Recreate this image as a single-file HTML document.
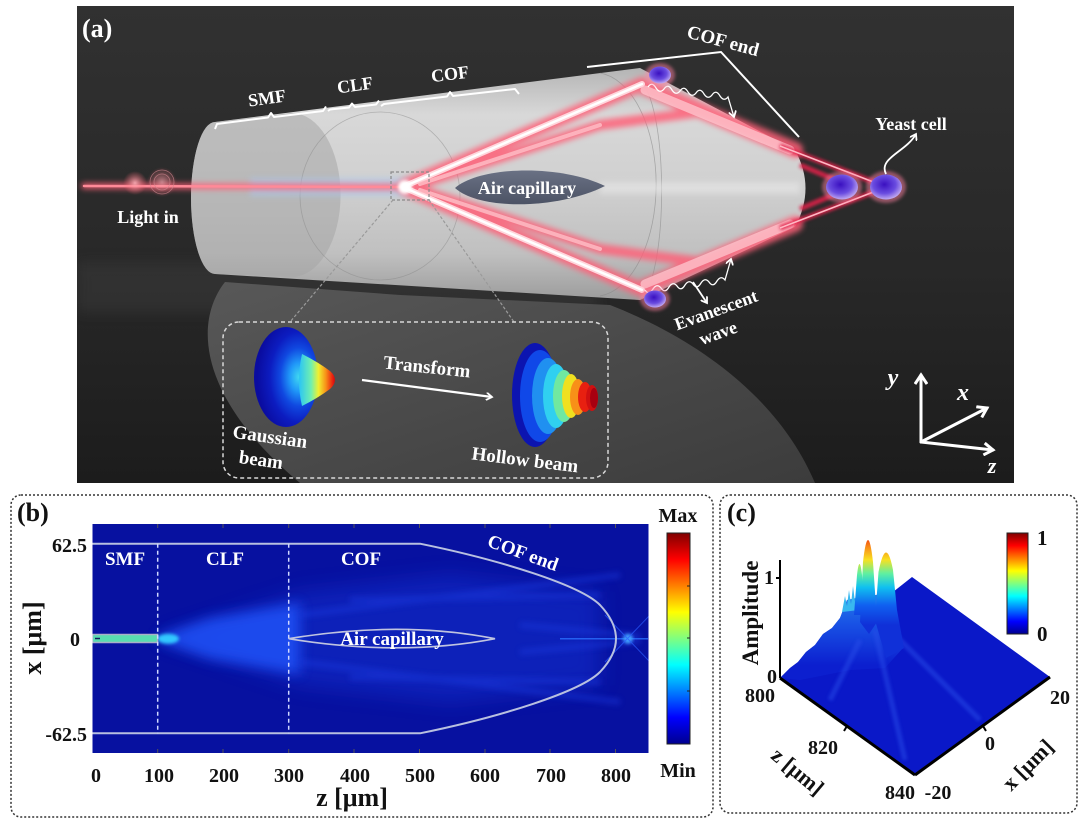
<!DOCTYPE html>
<html><head><meta charset="utf-8">
<style>
html,body{margin:0;padding:0;background:#fff;}
svg{display:block;}
text{font-family:"Liberation Serif",serif;font-weight:bold;}
</style></head>
<body>
<svg width="1080" height="825" viewBox="0 0 1080 825" xmlns="http://www.w3.org/2000/svg">
<defs>
  <linearGradient id="bgA" x1="0" y1="0" x2="0" y2="1">
    <stop offset="0" stop-color="#313131"/>
    <stop offset="0.55" stop-color="#282828"/>
    <stop offset="1" stop-color="#1c1c1c"/>
  </linearGradient>
  <linearGradient id="cyl" x1="0" y1="0" x2="0" y2="1">
    <stop offset="0" stop-color="#b4b4b4"/>
    <stop offset="0.2" stop-color="#d8d8d8"/>
    <stop offset="0.5" stop-color="#d0d0d0"/>
    <stop offset="0.8" stop-color="#c0c0c0"/>
    <stop offset="1" stop-color="#9c9c9c"/>
  </linearGradient>
  <linearGradient id="refl" x1="0" y1="0" x2="1" y2="1">
    <stop offset="0" stop-color="#585858"/>
    <stop offset="0.6" stop-color="#474747"/>
    <stop offset="1" stop-color="#3c3c3c"/>
  </linearGradient>
  <linearGradient id="lens" x1="0" y1="0" x2="0" y2="1">
    <stop offset="0" stop-color="#6a7184"/>
    <stop offset="1" stop-color="#4c5365"/>
  </linearGradient>
  <radialGradient id="cell" cx="0.45" cy="0.4" r="0.6">
    <stop offset="0" stop-color="#3a10c0"/>
    <stop offset="0.6" stop-color="#6a4ce0"/>
    <stop offset="1" stop-color="#c0a8f0"/>
  </radialGradient>
  <radialGradient id="pinkglow" cx="0.5" cy="0.5" r="0.5">
    <stop offset="0" stop-color="#ffb0b8" stop-opacity="0.9"/>
    <stop offset="1" stop-color="#ff6070" stop-opacity="0"/>
  </radialGradient>
  <linearGradient id="gcone" x1="300" y1="0" x2="337" y2="0" gradientUnits="userSpaceOnUse">
    <stop offset="0" stop-color="#30c8f0"/>
    <stop offset="0.3" stop-color="#70f0b0"/>
    <stop offset="0.5" stop-color="#f0f030"/>
    <stop offset="0.7" stop-color="#f89018"/>
    <stop offset="0.88" stop-color="#e82010"/>
    <stop offset="1" stop-color="#b00010"/>
  </linearGradient>
  <radialGradient id="gdisk" cx="0.7" cy="0.5" r="0.65">
    <stop offset="0" stop-color="#40d8f0"/>
    <stop offset="0.22" stop-color="#2098f8"/>
    <stop offset="0.45" stop-color="#1048e0"/>
    <stop offset="0.7" stop-color="#0c1cc0"/>
    <stop offset="1" stop-color="#0a0ca0"/>
  </radialGradient>
  <linearGradient id="jet" x1="0" y1="1" x2="0" y2="0">
    <stop offset="0" stop-color="#00008f"/>
    <stop offset="0.125" stop-color="#0000ff"/>
    <stop offset="0.375" stop-color="#00ffff"/>
    <stop offset="0.625" stop-color="#ffff00"/>
    <stop offset="0.875" stop-color="#ff0000"/>
    <stop offset="1" stop-color="#800000"/>
  </linearGradient>
  <linearGradient id="peak" x1="0" y1="526" x2="0" y2="625" gradientUnits="userSpaceOnUse">
    <stop offset="0" stop-color="#b00010"/>
    <stop offset="0.1" stop-color="#f03010"/>
    <stop offset="0.22" stop-color="#f89018"/>
    <stop offset="0.34" stop-color="#f8e020"/>
    <stop offset="0.48" stop-color="#60f0a0"/>
    <stop offset="0.62" stop-color="#10c0f0"/>
    <stop offset="0.8" stop-color="#1060f0"/>
    <stop offset="1" stop-color="#1030d8"/>
  </linearGradient>
  <linearGradient id="mound" x1="0" y1="590" x2="0" y2="665" gradientUnits="userSpaceOnUse">
    <stop offset="0" stop-color="#2a90f0"/>
    <stop offset="0.45" stop-color="#1a58e8"/>
    <stop offset="1" stop-color="#0c20d0"/>
  </linearGradient>
  <filter id="blur3" x="-20%" y="-50%" width="140%" height="200%"><feGaussianBlur stdDeviation="3"/></filter>
  <filter id="blur2" x="-20%" y="-50%" width="140%" height="200%"><feGaussianBlur stdDeviation="1.5"/></filter>
  <filter id="blur6" x="-30%" y="-50%" width="160%" height="200%"><feGaussianBlur stdDeviation="6"/></filter>
  <filter id="blur10" x="-30%" y="-60%" width="160%" height="220%"><feGaussianBlur stdDeviation="10"/></filter>
  <clipPath id="clipA"><rect x="77" y="6" width="937" height="477"/></clipPath>
  <clipPath id="clipHM"><rect x="92.5" y="524" width="556" height="229"/></clipPath>
  <marker id="ah" markerWidth="8" markerHeight="8" refX="6" refY="4" orient="auto" markerUnits="userSpaceOnUse">
    <path d="M0,0 L6,4 L0,8" fill="none" stroke="#fff" stroke-width="1.8"/>
  </marker>
  <marker id="ah2" markerWidth="14" markerHeight="14" refX="10" refY="7" orient="auto" markerUnits="userSpaceOnUse">
    <path d="M1,1 L10,7 L1,13" fill="none" stroke="#fff" stroke-width="3"/>
  </marker>
</defs>

<!-- ================= PANEL (a) ================= -->
<rect x="77" y="6" width="937" height="477" fill="url(#bgA)"/>
<g clip-path="url(#clipA)">
  <rect x="77" y="262" width="520" height="50" fill="#3a3a3a" opacity="0.5" filter="url(#blur6)"/>
  <path d="M225 282 C195 320,195 395,300 483 L815 483 C780 400,700 340,610 305 L400 295 Z" fill="url(#refl)"/>
  <path d="M215 122 L640 68 L795 150 Q816 188 795 227 L640 300 L215 274 A24 76 0 0 1 215 122 Z" fill="url(#cyl)"/>
  <path d="M215 122 L292 113 A48 81 0 0 1 292 277 L215 274 A24 76 0 0 1 215 122 Z" fill="#a6a6a6" opacity="0.55"/>
  <ellipse cx="380" cy="196" rx="80" ry="84" fill="none" stroke="#8a8a8a" stroke-width="0.8" opacity="0.5"/>
  <path d="M600 73 A62 112 0 0 1 600 296" fill="none" stroke="#888" stroke-width="0.8" opacity="0.6"/>
  <path d="M640 82 A25 110 0 0 1 640 300" fill="none" stroke="#8a8a8a" stroke-width="0.8" opacity="0.6"/>
  <rect x="600" y="182" width="200" height="12" fill="#ececec" opacity="0.5" filter="url(#blur3)"/>
  <rect x="250" y="178" width="160" height="18" fill="#a8c8f0" opacity="0.55" filter="url(#blur3)"/>
  <path d="M455 188 C480 166,560 164,605 186 C560 209,480 211,455 188 Z" fill="url(#lens)"/>
  <g filter="url(#blur3)" stroke="#ff6078" stroke-linecap="round" opacity="0.85">
    <line x1="84" y1="186" x2="410" y2="187" stroke-width="6"/>
    <line x1="405" y1="186" x2="642" y2="84" stroke-width="14"/>
    <line x1="405" y1="188" x2="642" y2="290" stroke-width="14"/>
    <line x1="420" y1="184" x2="600" y2="125" stroke-width="10"/>
    <line x1="420" y1="190" x2="600" y2="249" stroke-width="10"/>
    <line x1="642" y1="86" x2="795" y2="150" stroke-width="16"/>
    <line x1="642" y1="288" x2="795" y2="224" stroke-width="16"/>
    <line x1="600" y1="125" x2="700" y2="112" stroke-width="10"/>
    <line x1="600" y1="249" x2="700" y2="262" stroke-width="10"/>
  </g>
  <g stroke-linecap="round">
    <line x1="84" y1="186" x2="410" y2="187" stroke="#ff8a98" stroke-width="2.5"/>
    <line x1="405" y1="186" x2="642" y2="84" stroke="#ffd6dc" stroke-width="6"/>
    <line x1="405" y1="186" x2="642" y2="84" stroke="#fff" stroke-width="2.5"/>
    <line x1="405" y1="188" x2="642" y2="290" stroke="#ffd6dc" stroke-width="6"/>
    <line x1="405" y1="188" x2="642" y2="290" stroke="#fff" stroke-width="2.5"/>
    <line x1="420" y1="184" x2="600" y2="125" stroke="#ffc0c8" stroke-width="4" opacity="0.8"/>
    <line x1="420" y1="190" x2="600" y2="249" stroke="#ffc0c8" stroke-width="4" opacity="0.8"/>
    <line x1="645" y1="90" x2="790" y2="150" stroke="#ffc8d0" stroke-width="9" opacity="0.75"/>
    <line x1="645" y1="284" x2="790" y2="224" stroke="#ffc8d0" stroke-width="9" opacity="0.75"/>
  </g>
  <g filter="url(#blur2)" stroke="#e0204a" stroke-width="5" opacity="0.9">
    <line x1="780" y1="146" x2="876" y2="183"/>
    <line x1="780" y1="228" x2="876" y2="191"/>
    <line x1="800" y1="165" x2="838" y2="181"/>
    <line x1="800" y1="209" x2="838" y2="193"/>
  </g>
  <g stroke="#ffb8c4" stroke-width="1.5">
    <line x1="780" y1="146" x2="876" y2="183"/>
    <line x1="780" y1="228" x2="876" y2="191"/>
  </g>
  <circle cx="135" cy="183" r="12" fill="url(#pinkglow)"/>
  <circle cx="162" cy="182" r="15" fill="url(#pinkglow)" opacity="0.7"/>
  <circle cx="162" cy="182" r="12" fill="none" stroke="#d08890" stroke-width="0.8" opacity="0.7"/>
  <circle cx="162" cy="182" r="8" fill="none" stroke="#d08890" stroke-width="0.8" opacity="0.7"/>
  <circle cx="405" cy="187" r="7" fill="#fff" filter="url(#blur2)"/>
  <rect x="391" y="172" width="38" height="28" fill="none" stroke="#8a8a8a" stroke-width="1.2" stroke-dasharray="3 2"/>
  <line x1="393" y1="200" x2="290" y2="322" stroke="#9a9a9a" stroke-width="1.2" stroke-dasharray="3 2"/>
  <line x1="429" y1="200" x2="514" y2="322" stroke="#9a9a9a" stroke-width="1.2" stroke-dasharray="3 2"/>
  <path d="M648 87 q4 -6 8 1 q4 6 8 1 q4 -6 8 1 q4 6 8 1 q4 -6 8 1 q4 6 8 1 q4 -6 8 1 q4 6 8 1 q4 -6 8 1 q4 6 8 1 L734 117" fill="none" stroke="#fff" stroke-width="1.3" marker-end="url(#ah)"/>
  <path d="M645 290 q4 6 8 -1 q4 -6 8 -1 q4 6 8 -1 q4 -6 8 -1 q4 6 8 -1 q4 -6 8 -1 q4 6 8 -1 q4 -6 8 -1 q4 6 8 -1 q4 -6 8 -1 L731 259" fill="none" stroke="#fff" stroke-width="1.3" marker-end="url(#ah)"/>
  <g>
    <ellipse cx="660" cy="75" rx="15" ry="12" fill="#ff80a0" opacity="0.5" filter="url(#blur2)"/>
    <ellipse cx="660" cy="75" rx="11" ry="8.5" fill="url(#cell)"/>
    <ellipse cx="655" cy="299" rx="15" ry="12" fill="#ff80a0" opacity="0.5" filter="url(#blur2)"/>
    <ellipse cx="655" cy="299" rx="11" ry="8.5" fill="url(#cell)"/>
    <ellipse cx="842" cy="187" rx="20" ry="16" fill="#ff80a0" opacity="0.5" filter="url(#blur2)"/>
    <ellipse cx="842" cy="187" rx="16" ry="12.5" fill="url(#cell)"/>
    <ellipse cx="886" cy="187" rx="20" ry="16" fill="#ff80a0" opacity="0.5" filter="url(#blur2)"/>
    <ellipse cx="886" cy="187" rx="16" ry="12.5" fill="url(#cell)"/>
  </g>
  <polyline points="587,67 721,52 799,137" fill="none" stroke="#fff" stroke-width="2"/>
  <g fill="none" stroke="#fff" stroke-width="2" stroke-linejoin="round">
    <path d="M215 129 L217 124 L268 117.5 L271 113 L274 117 L323 111 L326 106.5"/>
    <path d="M328 111 L330 109.5 L349 107.5 L352 103.5 L355 107 L376 104.5 L379 100.5"/>
    <path d="M381 106 L384 104 L447 96.5 L450 92 L453 96 L515 89 L519 94"/>
  </g>
  <rect x="223" y="322" width="385" height="156" rx="16" fill="none" stroke="#d8d8d8" stroke-width="1.5" stroke-dasharray="4 3"/>
  <ellipse cx="286" cy="377" rx="32" ry="50" fill="url(#gdisk)"/>
  <path d="M302 354 Q318 362 330 371 Q340 380 330 389 Q318 398 302 406 Q296 380 302 354 Z" fill="url(#gcone)"/>
  <ellipse cx="535" cy="395" rx="23" ry="52" fill="#0c14b0"/>
  <ellipse cx="540" cy="396" rx="20" ry="46" fill="#1048e8"/>
  <ellipse cx="548" cy="396" rx="16" ry="38" fill="#2090f0"/>
  <ellipse cx="556" cy="396" rx="13" ry="32" fill="#30d0f0"/>
  <ellipse cx="564" cy="396" rx="11" ry="26" fill="#70e8a0"/>
  <ellipse cx="571" cy="396" rx="9" ry="22" fill="#f0e020"/>
  <ellipse cx="578" cy="397" rx="8" ry="18" fill="#f89018"/>
  <ellipse cx="585" cy="397" rx="7" ry="15" fill="#e82010"/>
  <ellipse cx="592" cy="398" rx="6" ry="13" fill="#d01010"/>
  <ellipse cx="594" cy="398" rx="4" ry="10" fill="#a80010"/>
  <line x1="362" y1="380" x2="492" y2="397" stroke="#fff" stroke-width="2.2" marker-end="url(#ah)"/>
  <g stroke="#fff" stroke-width="3" fill="none" stroke-linecap="round">
    <line x1="921" y1="442" x2="921" y2="375" marker-end="url(#ah2)"/>
    <line x1="921" y1="442" x2="987" y2="408" marker-end="url(#ah2)"/>
    <line x1="921" y1="442" x2="993" y2="450" marker-end="url(#ah2)"/>
  </g>
  <path d="M886 174 C878 158,906 152,916 134" fill="none" stroke="#fff" stroke-width="1.8" marker-end="url(#ah)"/>
  <line x1="693" y1="282" x2="707" y2="303" stroke="#fff" stroke-width="1.8" marker-end="url(#ah)"/>
  <g fill="#fff">
    <text x="82" y="37" font-size="26">(a)</text>
    <text x="148" y="223" font-size="18" text-anchor="middle">Light in</text>
    <text x="267" y="104" font-size="18" text-anchor="middle" transform="rotate(-8 267 98)">SMF</text>
    <text x="355" y="91" font-size="18" text-anchor="middle" transform="rotate(-8 355 85)">CLF</text>
    <text x="450" y="80" font-size="18" text-anchor="middle" transform="rotate(-7 450 74)">COF</text>
    <text x="723" y="47" font-size="19" text-anchor="middle" transform="rotate(15 723 41)">COF end</text>
    <text x="911" y="130" font-size="18" text-anchor="middle">Yeast cell</text>
    <text x="527" y="194" font-size="18" text-anchor="middle">Air capillary</text>
    <text x="716" y="316" font-size="18" text-anchor="middle" transform="rotate(-20 716 310)">Evanescent</text>
    <text x="718" y="339" font-size="18" text-anchor="middle" transform="rotate(-20 718 333)">wave</text>
    <text x="270" y="443" font-size="19" text-anchor="middle" transform="rotate(8 270 437)">Gaussian</text>
    <text x="261" y="466" font-size="19" text-anchor="middle" transform="rotate(8 261 460)">beam</text>
    <text x="427" y="373" font-size="19" text-anchor="middle" transform="rotate(6 427 367)">Transform</text>
    <text x="525" y="466" font-size="19" text-anchor="middle" transform="rotate(7 525 460)">Hollow beam</text>
    <text x="893" y="385" font-size="24" font-style="italic" font-weight="normal" text-anchor="middle">y</text>
    <text x="963" y="400" font-size="24" font-style="italic" font-weight="normal" text-anchor="middle">x</text>
    <text x="992" y="473" font-size="22" font-style="italic" font-weight="normal" text-anchor="middle">z</text>
  </g>
</g>

<!-- ================= PANEL (b) ================= -->
<rect x="11" y="495" width="702" height="322" rx="10" fill="none" stroke="#333" stroke-width="1.5" stroke-dasharray="2 2"/>
<text x="17" y="521" font-size="26" fill="#111">(b)</text>
<rect x="92.5" y="524" width="556" height="229" fill="#0711a0"/>
<g clip-path="url(#clipHM)">
  <polygon points="160,638 300,592 450,575 600,592 600,685 450,702 300,685" fill="#1434d8" opacity="0.45" filter="url(#blur10)"/>
  <polygon points="158,636 210,618 300,603 300,674 210,659 158,641" fill="#2058ff" opacity="0.75" filter="url(#blur6)"/>
  <g stroke="#1a3ae0" stroke-width="6" opacity="0.45" filter="url(#blur3)">
    <line x1="300" y1="615" x2="620" y2="575"/>
    <line x1="300" y1="662" x2="620" y2="702"/>
    <line x1="350" y1="600" x2="600" y2="595"/>
    <line x1="350" y1="677" x2="600" y2="682"/>
    <line x1="520" y1="625" x2="640" y2="636"/>
    <line x1="520" y1="652" x2="640" y2="641"/>
  </g>
  <ellipse cx="168" cy="638.7" rx="11" ry="5" fill="#30c8ff" filter="url(#blur2)"/>
  <line x1="560" y1="638.7" x2="648" y2="638.7" stroke="#2a70ff" stroke-width="1.5" opacity="0.8"/>
  <circle cx="628" cy="638.7" r="5" fill="#40a0ff" filter="url(#blur2)"/>
  <g stroke="#2a5cff" stroke-width="1" opacity="0.7">
    <line x1="605" y1="615" x2="650" y2="662"/>
    <line x1="605" y1="662" x2="650" y2="615"/>
  </g>
  <rect x="92.5" y="634.5" width="65" height="8" fill="#58dcb0" stroke="#a8b0c8" stroke-width="1.5"/>
  <line x1="95" y1="638.5" x2="100" y2="638.5" stroke="#102060" stroke-width="1.5"/>
  <path d="M92.5 543.7 L420 543.7 C500 560,580 585,600 605 Q616 622 616 638.7 Q616 655 600 672 C580 692,500 717,420 733.3 L92.5 733.3" fill="none" stroke="#b8c0e0" stroke-width="2"/>
  <line x1="157.7" y1="543.7" x2="157.7" y2="733.3" stroke="#d0d8ff" stroke-width="1.5" stroke-dasharray="4 3"/>
  <line x1="288.7" y1="543.7" x2="288.7" y2="733.3" stroke="#d0d8ff" stroke-width="1.5" stroke-dasharray="4 3"/>
  <path d="M288.7 638.7 Q400 620 495 638.7 Q400 657 288.7 638.7 Z" fill="none" stroke="#c0c4e0" stroke-width="1.6"/>
  <g fill="#fff">
    <text x="125" y="565" font-size="19" text-anchor="middle">SMF</text>
    <text x="225" y="565" font-size="19" text-anchor="middle">CLF</text>
    <text x="361" y="565" font-size="19" text-anchor="middle">COF</text>
    <text x="392" y="645" font-size="19" text-anchor="middle">Air capillary</text>
    <text x="523" y="559" font-size="19" text-anchor="middle" transform="rotate(20 523 553)">COF end</text>
  </g>
</g>
<g stroke="#555" stroke-width="1">
  <line x1="157.7" y1="524" x2="157.7" y2="528"/><line x1="223" y1="524" x2="223" y2="528"/><line x1="288.7" y1="524" x2="288.7" y2="528"/>
  <line x1="354" y1="524" x2="354" y2="528"/><line x1="419.5" y1="524" x2="419.5" y2="528"/><line x1="485" y1="524" x2="485" y2="528"/>
  <line x1="550" y1="524" x2="550" y2="528"/><line x1="615.5" y1="524" x2="615.5" y2="528"/>
  <line x1="157.7" y1="749" x2="157.7" y2="753"/><line x1="223" y1="749" x2="223" y2="753"/><line x1="288.7" y1="749" x2="288.7" y2="753"/>
  <line x1="354" y1="749" x2="354" y2="753"/><line x1="419.5" y1="749" x2="419.5" y2="753"/><line x1="485" y1="749" x2="485" y2="753"/>
  <line x1="550" y1="749" x2="550" y2="753"/><line x1="615.5" y1="749" x2="615.5" y2="753"/>
</g>
<g fill="#111" font-size="20">
  <text x="87" y="552" text-anchor="end">62.5</text>
  <text x="80" y="646" text-anchor="end">0</text>
  <text x="87" y="741" text-anchor="end">-62.5</text>
  <text x="96" y="782" text-anchor="middle">0</text>
  <text x="159" y="782" text-anchor="middle">100</text>
  <text x="224" y="782" text-anchor="middle">200</text>
  <text x="289" y="782" text-anchor="middle">300</text>
  <text x="355" y="782" text-anchor="middle">400</text>
  <text x="420" y="782" text-anchor="middle">500</text>
  <text x="485" y="782" text-anchor="middle">600</text>
  <text x="551" y="782" text-anchor="middle">700</text>
  <text x="616" y="782" text-anchor="middle">800</text>
  <text x="352" y="806" text-anchor="middle" font-size="26">z [μm]</text>
  <text x="0" y="0" text-anchor="middle" font-size="26" transform="translate(41 638) rotate(-90)">x [μm]</text>
  <text x="678" y="522" text-anchor="middle">Max</text>
  <text x="678" y="777" text-anchor="middle">Min</text>
</g>
<rect x="667" y="533" width="23" height="211" fill="url(#jet)" stroke="#222" stroke-width="1"/>
<g stroke="#222" stroke-width="1">
  <line x1="687" y1="586" x2="690" y2="586"/><line x1="687" y1="638" x2="690" y2="638"/><line x1="687" y1="691" x2="690" y2="691"/>
</g>

<!-- ================= PANEL (c) ================= -->
<rect x="720" y="495" width="357" height="318" rx="10" fill="none" stroke="#333" stroke-width="1.5" stroke-dasharray="2 2"/>
<text x="727" y="521" font-size="26" fill="#111">(c)</text>
<path d="M780 678 L790 668 L798 662 L806 652 L815 645 L823 634 L832 628 L840 618 L847 600 L893 592 L912 577 L1050 677 L915 775 Z" fill="#0a18c8"/>
<path d="M780 678 L790 668 L798 662 L806 652 L815 645 L823 634 L832 628 L840 618 L847 600 L870 595 L893 595 L903 648 L885 668 L850 670 L800 680 Z" fill="url(#mound)" opacity="0.9"/>
<g stroke="#2a50ea" stroke-width="5" opacity="0.5" filter="url(#blur2)">
  <line x1="875" y1="630" x2="905" y2="760"/>
  <line x1="885" y1="625" x2="980" y2="720"/>
  <line x1="860" y1="640" x2="830" y2="700"/>
</g>
<path d="M842 612 L845 596 L847 606 L849 590 L851 604 L853 586 L855 602 L857 582 L859 610 Z" fill="#38b8f0"/>
<path d="M854 615 L857 575 Q859.5 553 862 575 L865 615 Z" fill="url(#peak)"/>
<path d="M875 620 L878.5 572 Q886 534 893 570 L897 610 L904 648 L886 658 Z" fill="url(#peak)"/>
<path d="M860 622 L863 562 Q868 518 873 562 L877 622 L869 634 Z" fill="url(#peak)"/>
<g stroke="#000" fill="none">
  <line x1="780" y1="560" x2="780" y2="678" stroke-width="2"/>
  <line x1="776" y1="578" x2="780" y2="578" stroke-width="2"/>
  <line x1="780" y1="678" x2="915" y2="775" stroke-width="3"/>
  <line x1="915" y1="775" x2="1050" y2="677" stroke-width="3"/>
  <line x1="847" y1="726" x2="844" y2="731" stroke-width="2"/>
  <line x1="983" y1="726" x2="986" y2="731" stroke-width="2"/>
</g>
<g fill="#111" font-size="20">
  <text x="774" y="584" text-anchor="end">1</text>
  <text x="777" y="683" text-anchor="end">0</text>
  <text x="760" y="702" text-anchor="middle">800</text>
  <text x="823" y="754" text-anchor="middle">820</text>
  <text x="900" y="799" text-anchor="middle">840</text>
  <text x="938" y="799" text-anchor="middle">-20</text>
  <text x="990" y="750" text-anchor="middle">0</text>
  <text x="1060" y="704" text-anchor="middle">20</text>
  <text x="0" y="0" text-anchor="middle" font-size="23" transform="translate(758 613) rotate(-90)">Amplitude</text>
  <text x="0" y="0" text-anchor="middle" font-size="22" transform="translate(793 777) rotate(40)">z [μm]</text>
  <text x="0" y="0" text-anchor="middle" font-size="22" transform="translate(1033 770) rotate(-45)">x [μm]</text>
  <text x="1037" y="545" font-size="21">1</text>
  <text x="1037" y="641" font-size="21">0</text>
</g>
<rect x="1007" y="533" width="21" height="101" fill="url(#jet)" stroke="#222" stroke-width="1"/>
</svg>
</body></html>
